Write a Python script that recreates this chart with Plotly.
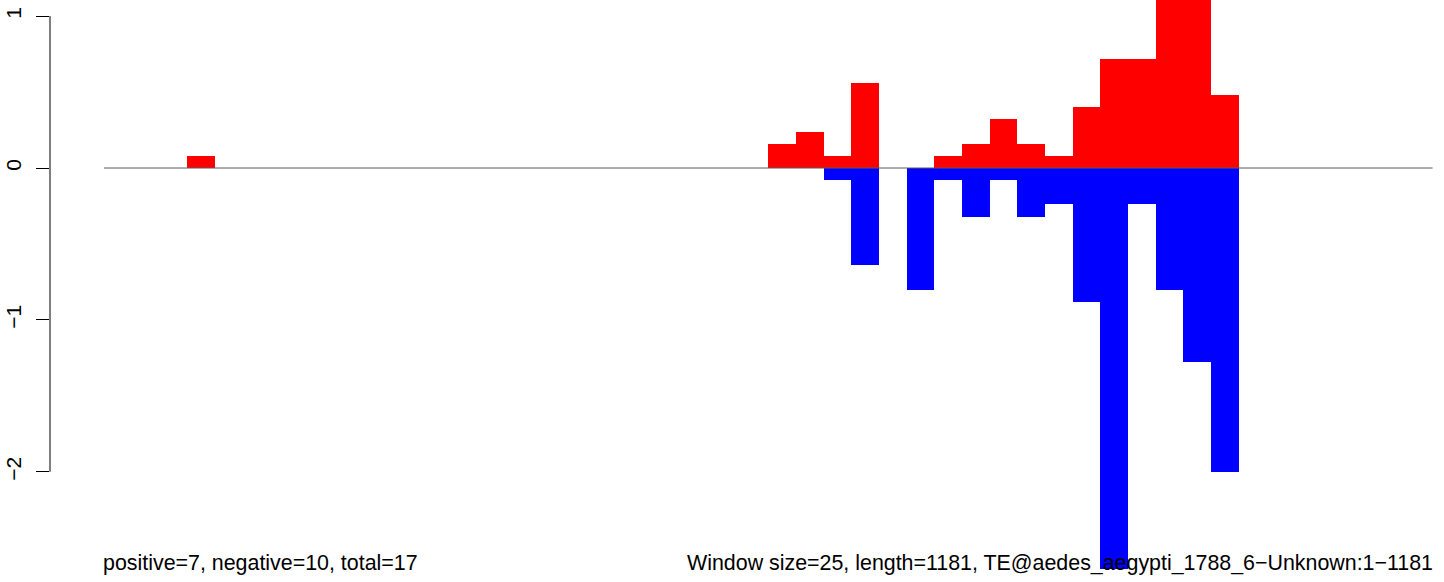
import plotly.graph_objects as go

# window indices (window size 25 nt) and per-window scores
windows = [3, 24, 25, 26, 27, 28, 29, 30, 31, 32, 33, 34, 35, 36, 37, 38, 39, 40]
positive = [0.08, 0.16, 0.24, 0.08, 0.56, 0.0, 0.0, 0.08, 0.16, 0.32, 0.16, 0.08, 0.40, 0.72, 0.72, 1.20, 1.20, 0.48]
negative = [0.0, 0.0, 0.0, -0.08, -0.64, 0.0, -0.80, -0.08, -0.32, -0.08, -0.32, -0.24, -0.88, -2.64, -0.24, -0.80, -1.28, -2.00]
n_windows = 48
ytick_vals = [-2, -1, 0, 1]
ytick_text = ["\u22122", "\u22121", "0", "1"]
left_label = "positive=7, negative=10, total=17"
right_label = "Window size=25, length=1181, TE@aedes_aegypti_1788_6\u2212Unknown:1\u22121181"

W, H = 1444, 582
ML = 50
pitch = 27.68
x0px = 103.95
xmin = -(x0px - ML) / pitch
xmax = xmin + (W - ML) / pitch
ppu = 151.9
zero_px = 168
ymax = zero_px / ppu
ymin = -(H - zero_px) / ppu

font = "Liberation Sans, Arial, Helvetica, sans-serif"

fig = go.Figure()
fig.add_trace(go.Scatter(x=[0, n_windows], y=[0, 0], mode="lines",
                         line=dict(color="#5a5a5a", width=1), hoverinfo="skip"))
xc = [w + 0.5 for w in windows]
fig.add_trace(go.Bar(x=xc, y=positive, width=1, base=0, marker=dict(color="#FF0000", line=dict(width=0))))
fig.add_trace(go.Bar(x=xc, y=negative, width=1, base=0, marker=dict(color="#0000FF", line=dict(width=0))))

fig.update_layout(
    width=W, height=H,
    margin=dict(l=ML, r=0, t=0, b=0, autoexpand=False),
    paper_bgcolor="white", plot_bgcolor="white",
    showlegend=False, barmode="overlay", bargap=0,
    font=dict(family=font, color="black"),
    xaxis=dict(range=[xmin, xmax], visible=False, showgrid=False, zeroline=False),
    yaxis=dict(range=[ymin, ymax], showgrid=False, zeroline=False, showline=False,
               tickmode="array", tickvals=ytick_vals, ticktext=ytick_text,
               ticks="outside", ticklen=13, tickwidth=1, tickcolor="black",
               tickangle=-90, tickfont=dict(size=21, family=font, color="black"),
               ticklabelstandoff=7, automargin=False),
    shapes=[dict(type="line", xref="paper", yref="y", x0=0, x1=0, y0=-2, y1=1,
                 line=dict(color="black", width=1))],
    annotations=[
        dict(text=left_label, xref="x", yref="paper", x=0, y=(H - 563) / H,
             xanchor="left", yanchor="middle", showarrow=False, xshift=-3,
             font=dict(size=21.4, family=font, color="black")),
        dict(text=right_label, xref="x", yref="paper", x=n_windows, y=(H - 563) / H,
             xanchor="right", yanchor="middle", showarrow=False, xshift=2,
             font=dict(size=21.4, family=font, color="black")),
    ],
)
fig.write_html("out.html", config={"displayModeBar": False},
               post_script="document.body.style.margin='0';document.body.style.overflow='hidden';")
